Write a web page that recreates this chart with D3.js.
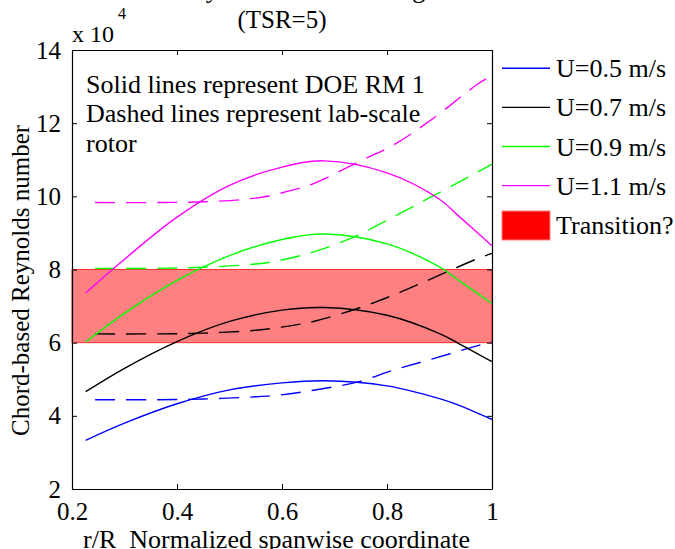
<!DOCTYPE html>
<html>
<head>
<meta charset="utf-8">
<script src="https://cdn.jsdelivr.net/npm/d3@7"></script>
<style>
  body { margin: 0; background: #fff; }
  svg { display: block; font-family: "Liberation Serif", "Times New Roman", serif; }
</style>
</head>
<body>
<div id="chart"></div>
<script>
// solid lines: DOE RM 1
const rSolid = [0.226, 0.3, 0.4, 0.5, 0.6, 0.68, 0.8, 0.9, 0.935, 1.0];
const reSolid05 = [3.33, 3.80, 4.33, 4.71, 4.90, 4.96, 4.82, 4.47, 4.30, 3.90];
const reSolid07 = [4.66, 5.30, 6.03, 6.58, 6.89, 6.96, 6.75, 6.25, 5.99, 5.48];
const reSolid09 = [6.02, 6.80, 7.70, 8.38, 8.82, 8.97, 8.70, 8.07, 7.72, 7.07];
const reSolid11 = [7.36, 8.28, 9.43, 10.30, 10.80, 10.97, 10.64, 9.92, 9.48, 8.65];

// dashed lines: lab-scale rotor
const rDash = [0.244, 0.35, 0.45, 0.55, 0.596, 0.66, 0.745, 0.812, 0.885, 0.973, 1.0];
const reDash05 = [4.44, 4.44, 4.46, 4.52, 4.57, 4.70, 4.93, 5.25, 5.55, 5.92, 6.03];
const reDash07 = [6.24, 6.24, 6.26, 6.34, 6.42, 6.58, 6.94, 7.30, 7.75, 8.30, 8.44];
const reDash09 = [8.03, 8.03, 8.06, 8.15, 8.25, 8.48, 8.94, 9.44, 9.99, 10.67, 10.88];
const reDash11 = [9.83, 9.83, 9.85, 9.95, 10.08, 10.35, 10.94, 11.40, 12.10, 13.07, 13.30];

const speeds = ["U=0.5 m/s", "U=0.7 m/s", "U=0.9 m/s", "U=1.1 m/s"];
const colors = ["#0000ff", "#000000", "#00ff00", "#ff00ff"];
const transition = [6, 8];
const xTicks = [0.2, 0.4, 0.6, 0.8, 1];
const yTicks = [2, 4, 6, 8, 10, 12, 14];
const notes = ["Solid lines represent DOE RM 1", "Dashed lines represent lab-scale", "rotor"];

const W = 675, H = 549;
const margin = {left: 72, right: 183, top: 50, bottom: 60};
const serif = "Liberation Serif, Times New Roman, serif";

const svg = d3.select('#chart').append('svg')
    .attr('width', W)
    .attr('height', H)
    .attr('font-family', serif);

const x = d3.scaleLinear().domain([0.2, 1]).range([margin.left, W - margin.right]);
const y = d3.scaleLinear().domain([2, 14]).range([H - margin.bottom, margin.top]);

// transition band
svg.append('rect')
    .attr('x', x(0.2))
    .attr('y', y(transition[1]))
    .attr('width', x(1) - x(0.2))
    .attr('height', y(transition[0]) - y(transition[1]))
    .attr('fill', '#ff8080')
    .attr('stroke', '#ff3030')
    .attr('stroke-width', 1);

const line = d3.line()
    .x(d => x(d[0]))
    .y(d => y(d[1]))
    .curve(d3.curveCatmullRom.alpha(0.5));

const solids = [reSolid05, reSolid07, reSolid09, reSolid11];
const dashes = [reDash05, reDash07, reDash09, reDash11];

const plot = svg.append('g');
dashes.forEach((vals, i) => {
    plot.append('path')
        .datum(rDash.map((r, j) => [r, vals[j]]))
        .attr('d', line)
        .attr('fill', 'none')
        .attr('stroke', colors[i])
        .attr('stroke-width', 1.4)
        .attr('stroke-dasharray', '20,11');
});
solids.forEach((vals, i) => {
    plot.append('path')
        .datum(rSolid.map((r, j) => [r, vals[j]]))
        .attr('d', line)
        .attr('fill', 'none')
        .attr('stroke', colors[i])
        .attr('stroke-width', 1.4);
});

// axes box with inward ticks
const axisStyle = g => {
    g.attr('font-family', serif);
    g.selectAll('.domain').attr('stroke', '#000').attr('stroke-width', 1.2);
    g.selectAll('.tick line').attr('stroke', '#000');
    g.selectAll('text').attr('font-size', 25).attr('fill', '#000');
};
svg.append('g')
    .attr('transform', `translate(0,${y(2)})`)
    .call(d3.axisBottom(x).tickValues(xTicks).tickSize(-5).tickSizeOuter(0).tickPadding(13).tickFormat(d3.format('')))
    .call(axisStyle);
svg.append('g')
    .attr('transform', `translate(0,${y(14)})`)
    .call(d3.axisTop(x).tickValues(xTicks).tickSize(-5).tickSizeOuter(0).tickFormat(''))
    .call(axisStyle);
svg.append('g')
    .attr('transform', `translate(${x(0.2)},0)`)
    .call(d3.axisLeft(y).tickValues(yTicks).tickSize(-5).tickSizeOuter(0).tickPadding(11).tickFormat(d3.format('d')))
    .call(axisStyle);
svg.append('g')
    .attr('transform', `translate(${x(1)},0)`)
    .call(d3.axisRight(y).tickValues(yTicks).tickSize(-5).tickSizeOuter(0).tickFormat(''))
    .call(axisStyle);

// exponent label
svg.append('text')
    .attr('x', x(0.2))
    .attr('y', 42)
    .attr('font-size', 24)
    .text('x 10');
svg.append('text')
    .attr('x', x(0.2) + 46)
    .attr('y', 19)
    .attr('font-size', 16)
    .text('4');

// title (first line is cut off at the top edge)
const cx = (x(0.2) + x(1)) / 2;
svg.append('text')
    .attr('x', cx)
    .attr('y', -2)
    .attr('text-anchor', 'middle')
    .attr('font-size', 26)
    .text('Chord-based Reynolds number along the blade');
svg.append('text')
    .attr('x', cx)
    .attr('y', 28)
    .attr('text-anchor', 'middle')
    .attr('font-size', 25)
    .text('(TSR=5)');

// axis labels
svg.append('text')
    .attr('x', 83)
    .attr('y', 548)
    .attr('font-size', 26)
    .attr('xml:space', 'preserve')
    .text('r/R  Normalized spanwise coordinate');
svg.append('text')
    .attr('transform', `translate(29,${y(7.7)}) rotate(-90)`)
    .attr('text-anchor', 'middle')
    .attr('font-size', 25)
    .text('Chord-based Reynolds number');

// note
svg.append('g').selectAll('text')
    .data(notes)
    .join('text')
    .attr('x', 86)
    .attr('y', (d, i) => 93 + i * 29.3)
    .attr('font-size', 26)
    .text(d => d);

// legend
const legend = svg.append('g').attr('transform', 'translate(502,0)');
speeds.forEach((s, i) => {
    const ly = 68.3 + i * 39.1;
    legend.append('line')
        .attr('x1', 0).attr('x2', 48)
        .attr('y1', ly).attr('y2', ly)
        .attr('stroke', colors[i])
        .attr('stroke-width', 1.4);
    legend.append('text')
        .attr('x', 54)
        .attr('y', ly + 9)
        .attr('font-size', 26)
        .text(s);
});
legend.append('rect')
    .attr('x', 0).attr('y', 211)
    .attr('width', 48).attr('height', 29)
    .attr('fill', '#ff0000')
    .attr('stroke', '#ff8080');
legend.append('text')
    .attr('x', 54)
    .attr('y', 234)
    .attr('font-size', 26)
    .text('Transition?');
</script>
</body>
</html>
